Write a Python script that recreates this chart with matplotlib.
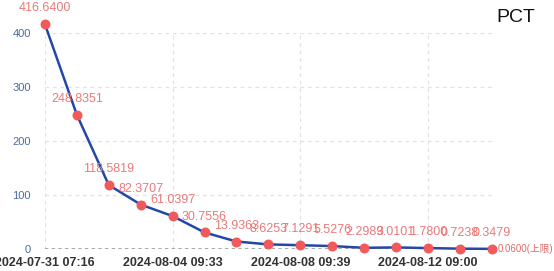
import matplotlib
matplotlib.use("Agg")
import matplotlib.pyplot as plt

# PCT series, one value per sampling time
values = [416.6400, 248.8351, 118.5819, 82.3707, 61.0397, 30.7556, 13.9363,
          8.6253, 7.1291, 5.5276, 2.2989, 3.0101, 1.7800, 0.7238, 0.3479]
tick_pos = [0, 4, 8, 12]
tick_labels = ["2024-07-31 07:16", "2024-08-04 09:33", "2024-08-08 09:39", "2024-08-12 09:00"]
y_ticks = [0, 100, 200, 300, 400]
limit = 0.0600
series_name = "PCT"

plt.rcParams["font.family"] = ["Liberation Sans", "Noto Sans CJK SC", "DejaVu Sans"]

fig = plt.figure(figsize=(5.54, 2.71), dpi=100)
ax = fig.add_axes([0.081, 0.081, 0.807, 0.797])

x = list(range(len(values)))
ax.plot(x, values, color="#2447a8", lw=1.8, zorder=3, clip_on=False)
ax.scatter(x, values, s=38, color="#f05a5a", zorder=4, clip_on=False)

for xi, v in zip(x, values):
    ax.annotate(f"{v:.4f}", (xi, v), xytext=(0, 7), textcoords="offset points",
                ha="center", va="bottom", fontsize=9, color="#e87a7a", zorder=5,
                annotation_clip=False)

# upper limit line
ax.axhline(limit, color="#999999", lw=1.2, ls=(0, (2, 2)), zorder=2)
ax.annotate(f"{limit:.4f}(上限)", (len(values) - 1, limit), xytext=(4, 0),
            textcoords="offset points", ha="left", va="center", fontsize=7,
            color="#e06a6a", annotation_clip=False,
            family=["Liberation Sans", "Noto Sans CJK SC"])

ax.set_xlim(0, len(values) - 1)
ax.set_ylim(0, 400)
ax.set_xticks(tick_pos)
ax.set_xticklabels(tick_labels, fontsize=9, color="#333333", fontweight="semibold")
ax.set_yticks(y_ticks)
ax.set_yticklabels([str(t) for t in y_ticks], fontsize=8, color="#4a6aa0")
ax.tick_params(length=0, pad=6)
ax.tick_params(axis="y", pad=10)

ax.grid(True, color="#e2e2e2", ls=(0, (3, 3)), lw=0.9)
ax.set_axisbelow(True)
for s in ax.spines.values():
    s.set_visible(False)

fig.text(0.966, 0.935, series_name, ha="right", va="center", fontsize=14, color="#111111")

fig.savefig("out.png", dpi=100)
